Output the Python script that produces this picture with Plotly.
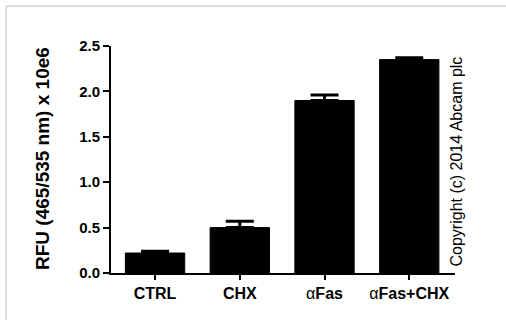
import plotly.graph_objects as go

categories = ["CTRL", "CHX", "αFas", "αFas+CHX"]
tick_labels = ["<b>CTRL</b>", "<b>CHX</b>", "α<b>Fas</b>", "α<b>Fas+CHX</b>"]
values = [0.22, 0.50, 1.90, 2.35]
errors = [0.02, 0.07, 0.06, 0.02]
y_ticks = [0.0, 0.5, 1.0, 1.5, 2.0, 2.5]
y_tick_labels = ["<b>0.0</b>", "<b>0.5</b>", "<b>1.0</b>", "<b>1.5</b>", "<b>2.0</b>", "<b>2.5</b>"]

FONT = "Arial, Liberation Sans, sans-serif"

fig = go.Figure()
fig.add_trace(go.Bar(
    x=list(range(len(categories))),
    y=values,
    width=0.70,
    marker=dict(color="black", line=dict(color="black", width=1)),
    error_y=dict(type="data", symmetric=False, array=errors,
                 arrayminus=[0] * len(errors), color="black",
                 thickness=3, width=14),
    hovertext=categories,
))

L, R, T, B = 111, 51, 46, 47
W, H = 506, 320
pw, ph = W - L - R, H - T - B

fig.update_layout(
    width=W, height=H,
    margin=dict(l=L, r=R, t=T, b=B),
    paper_bgcolor="white", plot_bgcolor="white",
    showlegend=False,
    font=dict(family=FONT, color="black"),
    xaxis=dict(
        range=[-0.52, 3.54],
        tickmode="array", tickvals=list(range(len(categories))), ticktext=tick_labels,
        ticks="outside", ticklen=5, tickwidth=2, tickcolor="black",
        showline=True, linecolor="black", linewidth=2,
        showgrid=False, zeroline=False,
        tickfont=dict(size=16, family=FONT, color="black"),
    ),
    yaxis=dict(
        range=[0, 2.5],
        tickmode="array", tickvals=y_ticks, ticktext=y_tick_labels,
        ticks="outside", ticklen=6, tickwidth=2, tickcolor="black",
        showline=True, linecolor="black", linewidth=2,
        showgrid=False, zeroline=False,
        tickfont=dict(size=15, family=FONT, color="black"),
    ),
    annotations=[
        dict(text="<b>RFU (465/535 nm) x 10e6</b>", textangle=-90,
             xref="paper", yref="paper",
             x=(42 - L) / pw, y=(H - B - 159) / ph,
             xanchor="center", yanchor="middle", showarrow=False,
             font=dict(size=19, family=FONT, color="black")),
        dict(text="Copyright (c) 2014 Abcam plc", textangle=-90,
             xref="paper", yref="paper",
             x=(455.5 - L) / pw, y=(H - B - 161) / ph,
             xanchor="center", yanchor="middle", showarrow=False,
             font=dict(size=16, family=FONT, color="black")),
    ],
    shapes=[
        dict(type="line", xref="paper", yref="paper",
             x0=(6 - L) / pw, x1=(6 - L) / pw, y0=(H - B - 6) / ph, y1=-0.4,
             line=dict(color="#dcdcdc", width=2)),
        dict(type="line", xref="paper", yref="paper",
             x0=(6 - L) / pw, x1=1.3, y0=(H - B - 6) / ph, y1=(H - B - 6) / ph,
             line=dict(color="#dcdcdc", width=2)),
    ],
)

fig.write_html("out.html", config={"displayModeBar": False},
               post_script="document.body.style.margin='0px';")
